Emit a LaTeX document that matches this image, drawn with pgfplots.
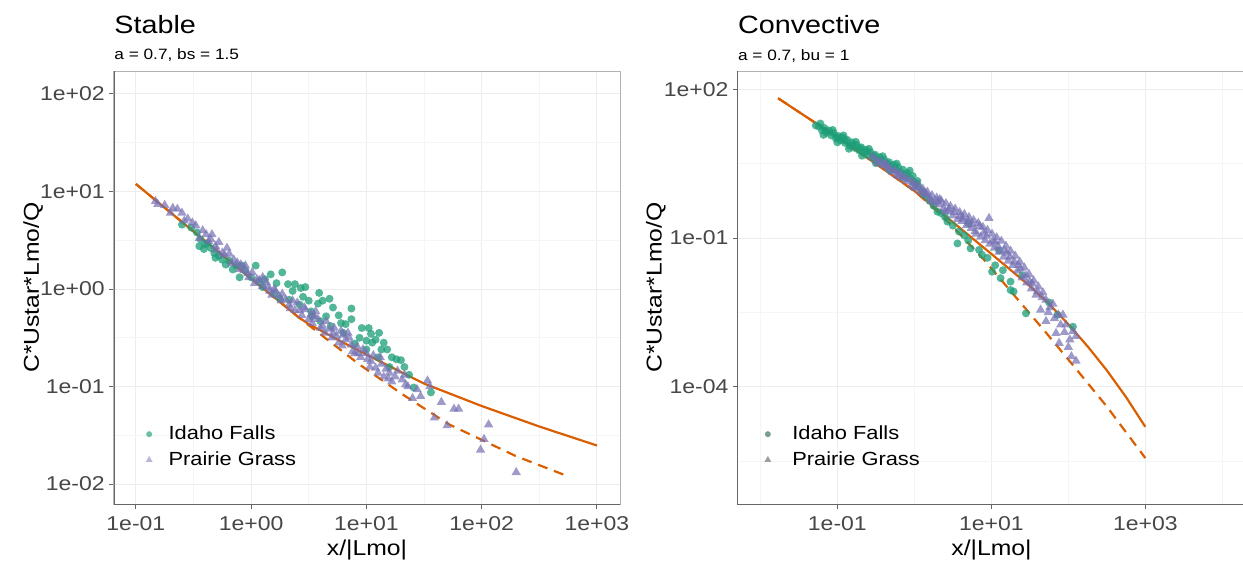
\documentclass[border=0pt]{standalone}
\usepackage{fontspec}
\setmainfont{Liberation Sans}[FakeStretch=1.15]
\usepackage{pgfplots}
\pgfplotsset{compat=1.18}
\definecolor{dgreen}{HTML}{1B9E77}
\definecolor{dpurple}{HTML}{7570B3}
\definecolor{dorange}{HTML}{D95F02}
\definecolor{legif}{RGB}{118,160,140}

\begin{document}
\begin{tikzpicture}

% ---------------- Stable ----------------
\begin{axis}[name=L,
  scale only axis, xmode=log, ymode=log,
  at={(57pt,30pt)}, anchor=south west, width=253pt, height=216.5pt,
  xmin=0.0646, xmax=1585, ymin=0.00624, ymax=172,
  axis line style={black!30, line width=0.5pt},
  tick align=outside, tick pos=left,
  major tick length=2.6pt, minor tick length=0pt,
  tick style={black!60, line width=0.5pt},
  xmajorgrids, ymajorgrids, xminorgrids, yminorgrids,
  major grid style={black!7, line width=0.5pt},
  minor grid style={black!4, line width=0.3pt},
  xtick={0.1,1,10,100,1000}, xticklabels={1e-01,1e+00,1e+01,1e+02,1e+03},
  ytick={0.01,0.1,1,10,100}, yticklabels={1e-02,1e-01,1e+00,1e+01,1e+02},
  minor xtick={0.3162,3.162,31.62,316.2},
  minor ytick={0.03162,0.3162,3.162,31.62},
  ticklabel style={font=\fontsize{10}{12}\selectfont, text=black!72},
  yticklabel style={xshift=1.5pt},
  xlabel={x/|Lmo|}, ylabel={C*Ustar*Lmo/Q},
  xlabel style={font=\fontsize{10.75}{13}\selectfont, at={(axis description cs:0.5,-0.106)}, anchor=center},
  ylabel style={font=\fontsize{10.75}{13}\selectfont, at={(axis description cs:-0.160,0.5)}, anchor=center},
  legend style={at={(axis description cs:0.05,0.20)}, anchor=north west,
    draw=none, fill=none, font=\fontsize{9.5}{11}\selectfont, row sep=0.5pt,
    /tikz/every odd column/.append style={column sep=6pt}},
  legend cell align=left,
]
\addplot[dorange, line width=1.1pt, forget plot] coordinates {(0.1,11.94)(0.3162,3.89)(1,1.274)(1.995,0.661)(2.512,0.525)
  (3.162,0.4365)(6.31,0.2818)(12.02,0.1905)(31.62,0.1072)(100,0.0631)(316.2,0.0389)(1000,0.02483)};
\addplot[dorange, line width=1.1pt, dash pattern=on 5pt off 3.5pt, forget plot] coordinates {(0.1,11.94)(0.3162,3.89)(1,1.274)(2.606,0.508)(4.467,0.3097)
  (8.65,0.169)(19.95,0.0851)(31.62,0.0598)(52.12,0.0409)(100,0.02838)(197.7,0.01936)
  (316.2,0.0156)(553.4,0.01208)};
% Idaho Falls
\addplot[only marks, mark=*, mark size=2pt, forget plot,
    mark options={draw opacity=0, fill=dgreen, fill opacity=0.75}] coordinates {
  (0.302,4.27)(0.339,3.80)(0.363,3.24)(0.355,2.75)(0.389,2.57)(0.447,2.63)(0.490,2.09)
  (0.479,2.34)(0.646,1.95)(0.692,1.585)(0.741,1.738)(0.891,1.549)(1.096,1.738)(1.0,1.318)
  (1.175,1.202)(1.479,1.413)(1.862,1.479)(2.089,1.122)(2.291,0.955)(2.692,1.023)(2.138,0.776)
  (2.630,0.692)(3.311,0.589)(3.890,0.912)(5.129,0.646)(4.467,0.525)(2.951,1.047)(7.413,0.631)
  (7.413,0.490)(6.026,0.447)(3.388,0.525)(4.898,0.417)(10.47,0.398)(12.88,0.355)(10.96,0.347)
  (10.0,0.295)(11.22,0.282)(13.49,0.240)(15.14,0.240)(18.20,0.1905)(19.95,0.1862)(10.0,0.240)
  (8.710,0.3162)(25.70,0.0977)(36.31,0.0871)(23.44,0.1318)(0.417,2.951)(0.562,1.995)
  (0.794,1.318)(1.259,1.047)(1.585,0.891)(1.778,0.794)(3.981,0.468)(6.310,0.355)(7.943,0.275)
  (15.85,0.1585)(12.59,0.1995)(3.162,0.759)(4.169,0.759)
  (0.2512,4.571)(0.3981,2.884)(0.5248,2.188)(0.6026,1.778)(0.8318,1.738)(1.318,1.259)
  (1.660,1.148)(2.399,1.122)(2.818,0.8318)(3.802,0.7079)(4.786,0.7943)(5.754,0.5370)
  (6.607,0.4365)(9.120,0.3981)(12.02,0.3020)(14.13,0.2818)(16.60,0.1995)(21.38,0.1585)};
% Prairie Grass
\addplot[only marks, mark=triangle*, mark size=2.7pt, forget plot,
    mark options={draw opacity=0, fill=dpurple, fill opacity=0.7}] coordinates {
  (0.148,7.943)(0.155,7.413)(0.209,6.761)(0.229,6.607)(0.1995,6.026)(0.309,4.786)(0.331,4.467)
  (0.407,3.631)(0.457,3.631)(0.447,3.236)(0.490,2.754)(0.617,2.630)(0.646,2.291)(0.708,1.995)
  (0.759,1.862)(0.813,1.778)(0.891,1.738)(0.871,1.549)(1.023,1.479)(0.955,1.318)(1.259,1.318)
  (1.349,1.175)(1.259,1.072)(1.445,0.955)(1.622,0.955)(1.738,0.851)(1.862,0.891)(1.995,0.776)
  (2.291,0.759)(2.512,0.724)(2.951,0.617)(3.311,0.550)(3.631,0.589)(2.884,0.646)(3.388,0.447)
  (3.802,0.490)(4.169,0.417)(4.786,0.389)(5.129,0.355)(5.495,0.331)(6.026,0.372)(6.607,0.302)
  (7.413,0.269)(7.586,0.229)(8.318,0.257)(9.333,0.240)(10.23,0.1905)(10.96,0.182)(12.02,0.155)
  (13.49,0.170)(14.79,0.1514)(15.85,0.138)(20.42,0.1175)(21.88,0.1047)(27.54,0.0933)
  (33.88,0.1148)(25.12,0.0759)(22.91,0.1)(44.67,0.0692)(57.54,0.0589)(63.10,0.0589)
  (38.90,0.0479)(50.12,0.0398)(114.8,0.0407)(104.7,0.0288)(97.72,0.0224)(199.5,0.01318)
  (1.122,1.259)(1.585,1.0)(2.138,0.692)(2.399,0.603)(2.754,0.537)(3.981,0.398)(4.467,0.468)
  (5.012,0.3162)(5.754,0.282)(6.310,0.339)(7.079,0.3162)(7.943,0.219)(8.913,0.1995)
  (11.48,0.209)(12.59,0.138)(14.13,0.1259)(16.60,0.1122)(17.78,0.1259)(0.562,2.344)
  (0.525,3.020)(0.380,3.981)(0.282,5.248)(0.251,6.026)(0.794,1.585)
  (0.1778,7.244)(0.2630,5.012)(0.3548,3.311)(0.4266,3.090)(0.5012,2.512)(0.5888,2.239)
  (0.6761,1.820)(0.9333,1.445)(1.072,1.148)(1.175,1.230)(1.413,1.047)(1.514,0.8710)
  (1.820,0.7586)(2.188,0.6310)(2.630,0.6026)(3.162,0.4898)(3.548,0.5248)(4.365,0.3548)
  (5.248,0.3981)(6.166,0.2630)(6.918,0.3548)(8.511,0.2188)(10.0,0.2188)(10.72,0.1585)
  (13.18,0.1995)(15.49,0.1202)(18.62,0.1445)(21.38,0.1318)(29.51,0.07943)(35.48,0.1)};
\addlegendimage{only marks, mark=*, mark size=1.5pt, mark options={draw opacity=0, fill=dgreen, fill opacity=0.65}}
\addlegendentry{Idaho Falls}
\addlegendimage{only marks, mark=triangle*, mark size=2pt, mark options={draw opacity=0, fill=dpurple, fill opacity=0.5}}
\addlegendentry{Prairie Grass}
\end{axis}

% ---------------- Convective ----------------
\begin{axis}[name=R,
  scale only axis, xmode=log, ymode=log,
  at={(368.85pt,30pt)}, anchor=south west, width=253.85pt, height=216.5pt,
  xmin=0.00508, xmax=19953, ymin=4.3e-7, ymax=234,
  axis line style={black!30, line width=0.5pt},
  tick align=outside, tick pos=left,
  major tick length=2.6pt, minor tick length=0pt,
  tick style={black!60, line width=0.5pt},
  xmajorgrids, ymajorgrids, xminorgrids, yminorgrids,
  major grid style={black!7, line width=0.5pt},
  minor grid style={black!4, line width=0.3pt},
  xtick={0.1,10,1000}, xticklabels={1e-01,1e+01,1e+03},
  ytick={1e-4,0.1,100}, yticklabels={1e-04,1e-01,1e+02},
  minor xtick={0.01,1,100,10000},
  minor ytick={3.162e-6,3.162e-3,3.162},
  ticklabel style={font=\fontsize{10}{12}\selectfont, text=black!72},
  yticklabel style={xshift=1.5pt},
  xlabel={x/|Lmo|}, ylabel={C*Ustar*Lmo/Q},
  xlabel style={font=\fontsize{10.75}{13}\selectfont, at={(axis description cs:0.5,-0.106)}, anchor=center},
  ylabel style={font=\fontsize{10.75}{13}\selectfont, at={(axis description cs:-0.161,0.5)}, anchor=center},
  legend style={at={(axis description cs:0.04,0.20)}, anchor=north west,
    draw=none, fill=none, font=\fontsize{9.5}{11}\selectfont, row sep=0.5pt,
    /tikz/every odd column/.append style={column sep=8.5pt}},
  legend cell align=left,
]
\addplot[dorange, line width=1.1pt, forget plot] coordinates {(0.01698,66.07)(0.1,10.72)(0.3162,3.162)(1,0.8913)(1.585,0.5012)
  (3.162,0.2089)(10,0.04786)(31.62,0.01072)(56.23,0.004677)(100,0.001820)(177.8,0.000653)
  (316.2,0.0002138)(562.3,6.166e-5)(1000,1.549e-5)};
\addplot[dorange, line width=1.1pt, dash pattern=on 5pt off 3.5pt, forget plot] coordinates {(0.01698,66.07)(0.1,10.72)(0.3162,3.162)(1,0.8913)(1.585,0.4786)
  (3.162,0.1698)(7.943,0.03715)(19.95,0.006918)(50.12,0.001288)(125.9,0.0002291)
  (316.2,3.981e-5)(1000,3.631e-6)};
% Idaho Falls
\addplot[only marks, mark=*, mark size=2pt, forget plot,
    mark options={draw opacity=0, fill=dgreen, fill opacity=0.75}] coordinates {
  (0.05248,18.62)(0.05754,17.78)(0.0631,14.79)(0.06761,16.60)(0.07244,13.18)(0.07762,14.79)
  (0.08318,11.75)(0.08913,13.18)(0.0955,10.23)(0.1023,11.48)(0.1096,9.333)(0.1175,10.72)
  (0.1259,8.318)(0.1349,9.550)(0.1445,7.244)(0.1549,8.511)(0.1660,6.607)(0.1778,7.586)
  (0.1905,5.888)(0.2042,6.761)(0.2188,5.248)(0.2344,6.026)(0.2512,4.677)(0.2692,5.370)
  (0.2884,4.169)(0.3090,4.786)(0.3311,3.802)(0.3548,4.266)(0.3802,3.311)(0.4074,3.802)
  (0.4365,2.951)(0.4677,3.388)(0.5012,2.630)(0.5370,3.020)(0.5754,2.344)(0.6166,2.692)
  (0.6607,2.138)(0.7079,2.399)(0.7586,1.905)(0.8128,2.042)(0.1,10.72)(0.1585,7.586)
  (0.2399,5.495)(0.3631,3.715)(0.5495,2.630)(0.1995,6.457)(0.1259,9.333)(0.07079,14.45)
  (0.4467,3.162)(0.2951,4.571)(0.8913,1.585)(1.0,1.318)(1.122,1.122)(1.259,0.8913)
  (1.413,0.7079)(1.072,1.259)(1.318,0.7586)(1.585,0.5623)(1.778,0.4467)(1.995,0.3388)
  (2.239,0.3162)(2.512,0.2630)(2.692,0.2138)(3.162,0.1778)(3.802,0.1349)(3.631,0.07762)
  (4.467,0.1122)(5.012,0.08913)(5.370,0.06166)(6.918,0.05754)(7.586,0.04571)(8.913,0.03981)
  (10.23,0.02089)(11.22,0.02818)(13.18,0.01549)(14.13,0.02239)(17.78,0.01318)(17.78,0.008913)
  (19.50,0.008318)(28.18,0.003020)(72.44,0.002818)(114.8,0.001622)(5.012,0.1995)
  (12.59,0.05623)(25.12,0.01778)(56.23,0.005012)
  (0.06026,20.42)(0.06607,12.02)(0.08710,15.14)(0.1,8.511)(0.1202,11.75)(0.1413,6.310)
  (0.1738,8.710)(0.2089,4.571)(0.2570,6.310)(0.3162,3.236)(0.3890,4.467)(0.4786,2.344)
  (0.5888,3.162)(0.7244,1.660)(0.8710,2.291)(0.9550,1.778)(1.096,1.413)};
% Prairie Grass
\addplot[only marks, mark=triangle*, mark size=2.7pt, forget plot,
    mark options={draw opacity=0, fill=dpurple, fill opacity=0.7}] coordinates {
  (0.2818,4.365)(0.3162,3.802)(0.3388,3.236)(0.3631,3.548)(0.3981,2.951)(0.4266,3.162)
  (0.4571,2.630)(0.4898,2.399)(0.5248,2.138)(0.5623,2.291)(0.6026,1.862)(0.6457,1.995)
  (0.6918,1.585)(0.7413,1.738)(0.7943,1.380)(0.8511,1.514)(0.9120,1.148)(0.9772,1.318)
  (1.047,1.0)(1.122,1.175)(1.202,0.8710)(1.288,0.9772)(1.380,0.7413)(1.479,0.8511)
  (1.585,0.6310)(1.698,0.7244)(1.820,0.5248)(1.950,0.6457)(2.089,0.4677)(2.239,0.5623)
  (2.399,0.3981)(2.570,0.5012)(2.754,0.3467)(2.951,0.4365)(3.162,0.2818)(3.388,0.3890)
  (3.631,0.2399)(3.890,0.3311)(4.169,0.2188)(4.467,0.3020)(4.786,0.1820)(5.129,0.2630)
  (5.495,0.1585)(5.888,0.2291)(6.310,0.1202)(6.761,0.1995)(7.244,0.1047)(7.762,0.1660)
  (8.318,0.08913)(8.913,0.1445)(9.333,0.2512)(9.550,0.07586)(10.23,0.1202)(10.96,0.06310)
  (11.75,0.1023)(12.59,0.05248)(13.49,0.08710)(14.45,0.04169)(15.49,0.06918)(16.60,0.03467)
  (17.78,0.05495)(19.05,0.02818)(20.42,0.04365)(21.88,0.02188)(23.44,0.03311)(25.12,0.01585)
  (26.92,0.02512)(28.84,0.01259)(30.90,0.01862)(33.11,0.009550)(35.48,0.01380)(38.02,0.007079)
  (40.74,0.01047)(43.65,0.003548)(46.77,0.007943)(51.29,0.002089)(51.29,0.005623)
  (57.54,0.003981)(63.10,0.004677)(69.18,0.001202)(74.13,0.002818)(75.86,0.0007586)
  (85.11,0.002818)(93.33,0.001778)(109.6,0.0004074)(114.8,0.001318)(125.9,0.0003311)
  (125.9,0.001047)(104.7,0.0008913)(79.43,0.001778)(1.995,0.5495)(3.981,0.2754)
  (7.943,0.1259)(15.85,0.05012)(31.62,0.01318)(2.818,0.3802)(5.623,0.1905)(11.22,0.08318)
  (22.39,0.02818)(1.413,0.7943)(0.6310,1.778)
  (0.4467,2.818)(1.0,1.047)(1.318,0.8318)(1.660,0.5495)(2.138,0.6026)(2.512,0.3388)
  (3.311,0.3311)(4.266,0.2512)(5.012,0.2188)(6.166,0.1380)(7.079,0.1738)(8.710,0.1096)
  (10.47,0.08710)(12.30,0.06761)(14.79,0.05623)(17.38,0.04169)(19.95,0.03311)(23.99,0.02399)
  (28.18,0.01738)(33.88,0.01202)(39.81,0.008318)(45.71,0.006310)(54.95,0.003162)
  (66.07,0.002399)(89.13,0.001259)(100,0.0006310)};
\addlegendimage{only marks, mark=*, mark size=1.5pt, mark options={draw opacity=0, fill=legif}}
\addlegendentry{Idaho Falls}
\addlegendimage{only marks, mark=triangle*, mark size=2pt, mark options={draw opacity=0, fill=black!38}}
\addlegendentry{Prairie Grass}
\end{axis}

% darker axis lines on the left and bottom of each panel
\draw[black!60, line width=0.5pt] (L.north west) -- (L.south west) -- (L.south east);
\draw[black!60, line width=0.5pt] (R.north west) -- (R.south west) -- (R.south east);

% titles and subtitles
\node[anchor=base west, inner sep=0pt, font=\fontsize{12.5}{14}\selectfont] at ([yshift=19pt]L.north west) {Stable};
\node[anchor=base west, inner sep=0pt, font=\fontsize{7.5}{9}\selectfont] at ([yshift=5.5pt]L.north west) {a = 0.7, bs = 1.5};
\node[anchor=base west, inner sep=0pt, font=\fontsize{12.5}{14}\selectfont] at ([yshift=19pt]R.north west) {Convective};
\node[anchor=base west, inner sep=0pt, font=\fontsize{7.5}{9}\selectfont] at ([yshift=5.5pt]R.north west) {a = 0.7, bu = 1};

\pgfresetboundingbox
\path[use as bounding box] (0pt,0pt) rectangle (621.5pt,282pt);
\end{tikzpicture}
\end{document}
